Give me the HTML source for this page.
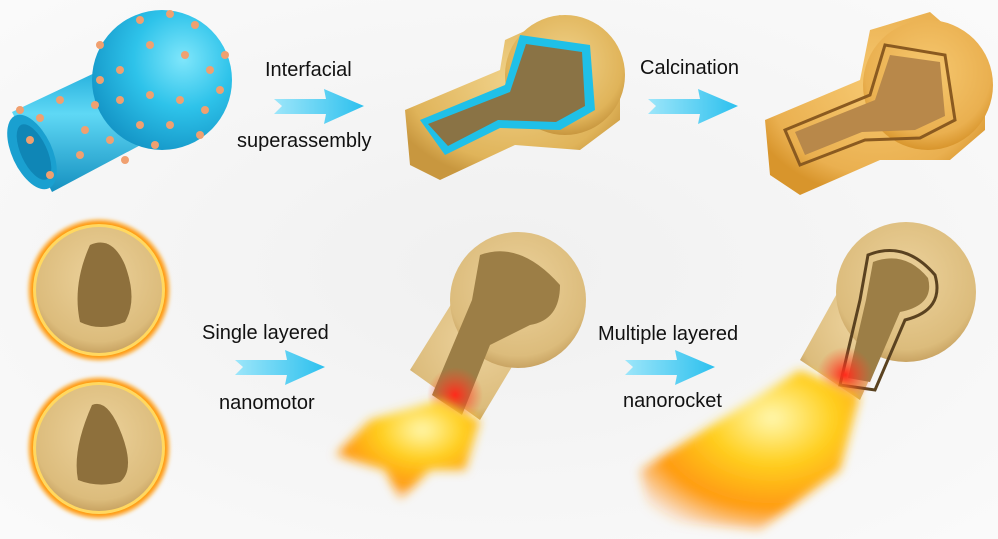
<!DOCTYPE html>
<html><head><meta charset="utf-8"><style>
html,body{margin:0;padding:0;background:#f6f6f6;}
svg{display:block}
text{font-family:"Liberation Sans",sans-serif;font-size:20px;fill:#111}
</style></head><body>
<svg width="998" height="539" viewBox="0 0 998 539" xmlns="http://www.w3.org/2000/svg">
<defs>
<radialGradient id="bg" cx="0.5" cy="0.5" r="0.7"><stop offset="0" stop-color="#f0f0f0"/><stop offset="1" stop-color="#fafafa"/></radialGradient>
<radialGradient id="blue" cx="0.65" cy="0.35" r="0.7"><stop offset="0" stop-color="#7fe6fb"/><stop offset="0.5" stop-color="#2ec3ea"/><stop offset="1" stop-color="#1597c8"/></radialGradient>
<linearGradient id="tube" x1="0" y1="0" x2="0" y2="1"><stop offset="0" stop-color="#1aa8d8"/><stop offset="0.4" stop-color="#5fd8f5"/><stop offset="1" stop-color="#1590c0"/></linearGradient>
<linearGradient id="arr" x1="0" y1="0" x2="1" y2="0"><stop offset="0" stop-color="#9de6fa"/><stop offset="1" stop-color="#2cc0ee"/></linearGradient>
<radialGradient id="gold" cx="0.5" cy="0.4" r="0.6"><stop offset="0" stop-color="#f0d28a"/><stop offset="0.8" stop-color="#e0b45a"/><stop offset="1" stop-color="#c8973f"/></radialGradient>
<radialGradient id="gold2" cx="0.5" cy="0.4" r="0.6"><stop offset="0" stop-color="#f6c870"/><stop offset="0.8" stop-color="#eab050"/><stop offset="1" stop-color="#d8952c"/></radialGradient>
<radialGradient id="tan" cx="0.5" cy="0.4" r="0.6"><stop offset="0" stop-color="#ecd29c"/><stop offset="0.85" stop-color="#dcbc7c"/><stop offset="1" stop-color="#c9a463"/></radialGradient>
<radialGradient id="fire" cx="0.6" cy="0.3" r="0.8"><stop offset="0" stop-color="#fff8b0"/><stop offset="0.35" stop-color="#ffd020"/><stop offset="0.7" stop-color="#ff9a10"/><stop offset="1" stop-color="#ff8a20" stop-opacity="0"/></radialGradient>
<radialGradient id="red" cx="0.5" cy="0.5" r="0.5"><stop offset="0" stop-color="#ff2a1a"/><stop offset="1" stop-color="#ff4a2a" stop-opacity="0"/></radialGradient>
<filter id="b2"><feGaussianBlur stdDeviation="2"/></filter>
<filter id="b5"><feGaussianBlur stdDeviation="5"/></filter>
<g id="arrow"><path d="M0,10 L52,10 L50,0 L90,17 L50,35 L52,25 L0,25 L8,17 Z" fill="url(#arr)"/></g>
</defs>
<rect width="998" height="539" fill="url(#bg)"/>

<!-- Blue template -->
<g>
<path d="M12,112 L118,62 L150,140 L52,192 Z" fill="url(#tube)"/>
<circle cx="162" cy="80" r="70" fill="url(#blue)"/>
<ellipse cx="32" cy="152" rx="20" ry="40" transform="rotate(-25 32 152)" fill="#1aa0d0"/>
<ellipse cx="34" cy="152" rx="13" ry="30" transform="rotate(-25 34 152)" fill="#0f86b6"/>
<g fill="#f0a070">
<circle cx="140" cy="20" r="4"/><circle cx="170" cy="14" r="4"/><circle cx="195" cy="25" r="4"/><circle cx="150" cy="45" r="4"/><circle cx="185" cy="55" r="4"/><circle cx="210" cy="70" r="4"/><circle cx="120" cy="70" r="4"/><circle cx="100" cy="80" r="4"/><circle cx="60" cy="100" r="4"/><circle cx="40" cy="118" r="4"/><circle cx="20" cy="110" r="4"/><circle cx="95" cy="105" r="4"/><circle cx="120" cy="100" r="4"/><circle cx="150" cy="95" r="4"/><circle cx="180" cy="100" r="4"/><circle cx="205" cy="110" r="4"/><circle cx="220" cy="90" r="4"/><circle cx="170" cy="125" r="4"/><circle cx="140" cy="125" r="4"/><circle cx="110" cy="140" r="4"/><circle cx="80" cy="155" r="4"/><circle cx="50" cy="175" r="4"/><circle cx="85" cy="130" r="4"/><circle cx="200" cy="135" r="4"/><circle cx="155" cy="145" r="4"/><circle cx="125" cy="160" r="4"/><circle cx="30" cy="140" r="4"/><circle cx="225" cy="55" r="4"/><circle cx="100" cy="45" r="4"/>
</g>
</g>

<!-- Top object 2 -->
<g>
<path d="M405,110 L500,70 L505,40 L560,15 L620,60 L620,120 L580,150 L515,145 L440,180 L410,165 Z" fill="url(#gold)"/>
<circle cx="565" cy="75" r="60" fill="url(#gold)"/>
<path d="M420,120 L505,85 L520,35 L590,45 L595,110 L560,130 L500,128 L445,155 Z" fill="#1fc0e8"/>
<path d="M428,124 L510,92 L526,44 L582,52 L585,106 L556,122 L498,120 L448,146 Z" fill="#8a7345"/>
</g>

<!-- Top object 3 -->
<g>
<path d="M765,120 L860,80 L870,30 L930,12 L985,60 L985,130 L950,160 L880,160 L800,195 L770,175 Z" fill="url(#gold2)"/>
<circle cx="928" cy="85" r="65" fill="url(#gold2)"/>
<path d="M785,130 L870,95 L885,45 L945,55 L955,120 L920,138 L865,140 L800,165 Z" fill="none" stroke="#8a5a20" stroke-width="3"/>
<path d="M795,132 L875,100 L890,55 L940,62 L945,116 L915,130 L862,132 L805,155 Z" fill="#b8884a"/>
</g>

<!-- Bottom spheres -->
<g>
<circle cx="99" cy="290" r="70" fill="#ff9a10" filter="url(#b2)"/>
<circle cx="99" cy="290" r="66" fill="#ffd860"/>
<circle cx="99" cy="290" r="63" fill="url(#tan)"/>
<path d="M90,245 Q112,235 125,265 Q138,300 125,322 Q100,332 80,322 Q72,285 90,245 Z" fill="#8e703c"/>
<circle cx="99" cy="448" r="70" fill="#ff9a10" filter="url(#b2)"/>
<circle cx="99" cy="448" r="66" fill="#ffd860"/>
<circle cx="99" cy="448" r="63" fill="url(#tan)"/>
<path d="M92,405 Q108,398 122,435 Q135,470 120,482 Q98,488 78,480 Q72,450 92,405 Z" fill="#8e703c"/>
</g>

<!-- Bottom object 2 -->
<g>
<path d="M410,370 L460,290 L540,320 L480,420 Z" fill="url(#tan)"/>
<circle cx="518" cy="300" r="68" fill="url(#tan)"/>
<path d="M480,255 Q520,240 560,285 Q560,320 530,325 L490,345 L462,415 L432,395 L472,300 Z" fill="#9c7e46"/>
<ellipse cx="455" cy="395" rx="28" ry="28" fill="url(#red)"/>
<path d="M440,400 L480,420 L465,470 L430,470 L400,500 L385,470 L335,455 L370,420 Z" fill="url(#fire)" filter="url(#b5)"/>
</g>

<!-- Bottom object 3 -->
<g>
<path d="M800,360 L850,270 L910,290 L860,400 Z" fill="url(#tan)"/>
<circle cx="906" cy="292" r="70" fill="url(#tan)"/>
<path d="M868,255 Q905,240 935,275 Q945,310 905,320 L875,390 L840,385 L860,300 Z" fill="none" stroke="#5a4220" stroke-width="3"/>
<path d="M873,262 Q905,250 928,278 Q935,305 900,312 L870,382 L848,378 L866,300 Z" fill="#9c7e46"/>
<ellipse cx="845" cy="375" rx="28" ry="28" fill="url(#red)"/>
<path d="M800,370 L860,395 L840,470 L760,530 L650,520 L640,470 L720,420 Z" fill="url(#fire)" filter="url(#b5)"/>
</g>

<!-- Arrows -->
<use href="#arrow" x="274" y="89"/>
<use href="#arrow" x="648" y="89"/>
<use href="#arrow" x="235" y="350"/>
<use href="#arrow" x="625" y="350"/>

<!-- Labels -->
<text x="265" y="76">Interfacial</text>
<text x="237" y="147">superassembly</text>
<text x="640" y="74">Calcination</text>
<text x="202" y="339">Single layered</text>
<text x="219" y="409">nanomotor</text>
<text x="598" y="340">Multiple layered</text>
<text x="623" y="407">nanorocket</text>
</svg>
</body></html>
